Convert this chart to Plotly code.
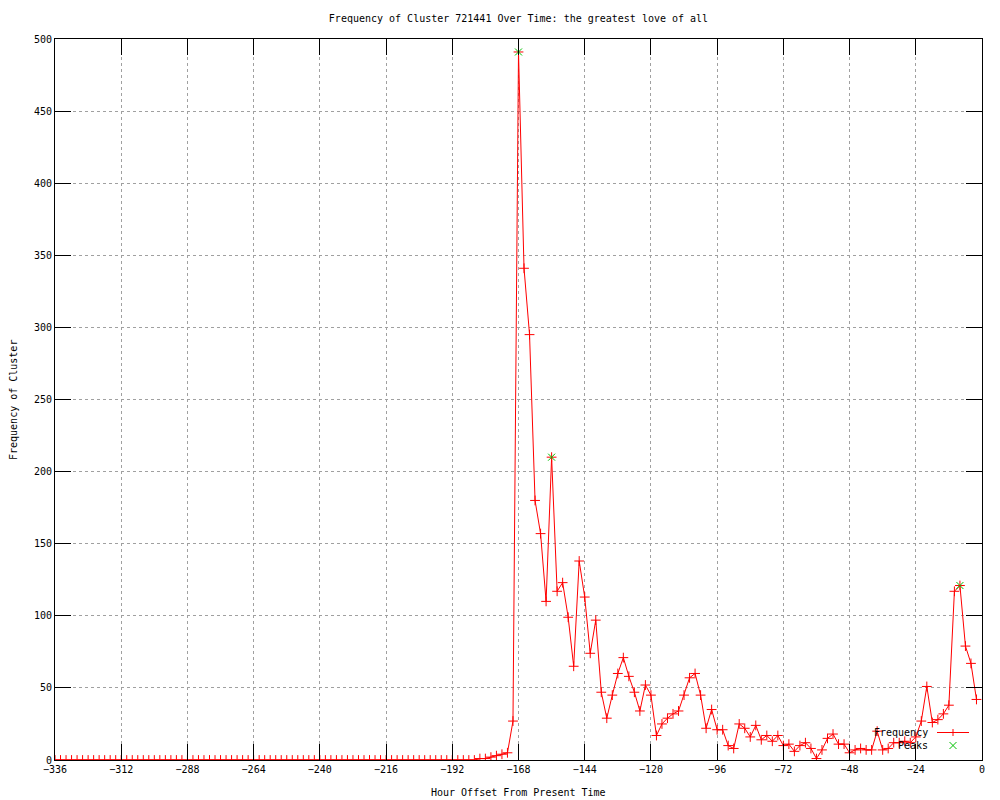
import plotly.graph_objects as go

# hour offsets, one sample every 2 hours
hours = list(range(-336, 0, 2))

# frequency per sample (zeros until the burst near -180)
zero_part = [0] * 76  # -336 .. -186
frequency = zero_part + [
    0, 1, 1, 2, 3, 4, 5, 27,            # -184 .. -170
    491, 341, 295, 180, 157, 110, 210,  # -168 .. -156
    117, 123, 99, 65, 138, 113, 74, 97, # -154 .. -140
    47, 29, 45, 60, 71, 58, 47, 34,     # -138 .. -124
    52, 45, 17, 25, 29, 32, 34, 45,     # -122 .. -108
    57, 60, 45, 22, 35, 21, 21, 10,     # -106 .. -92
    8, 25, 22, 16, 24, 14, 17, 13,      # -90 .. -76
    17, 10, 11, 6, 10, 12, 8, 1,        # -74 .. -60
    7, 15, 18, 11, 11, 5, 7, 8,         # -58 .. -44
    7, 7, 20, 7, 8, 12, 12, 13,         # -42 .. -28
    12, 16, 27, 51, 26, 28, 32, 38,     # -26 .. -12
    117, 121, 79, 67, 42,               # -10 .. -2
]

peak_hours = [-168, -156, -8]
peak_values = [491, 210, 121]

x_ticks = list(range(-336, 1, 24))
y_ticks = list(range(0, 501, 50))

FONT = "DejaVu Sans Mono"
RED = "#ff0000"
GREEN = "#00c000"

# the page body adds an 8px offset, so the figure is drawn 8px smaller
W, H = 992, 792
OFF = 8

fig = go.Figure()

fig.add_trace(
    go.Scatter(
        name="Frequency",
        x=hours,
        y=frequency,
        mode="lines+markers",
        line=dict(color=RED, width=1),
        marker=dict(symbol="cross-thin", size=7, line=dict(color=RED, width=1)),
        showlegend=False,
    )
)
fig.add_trace(
    go.Scatter(
        name="Peaks",
        x=peak_hours,
        y=peak_values,
        mode="markers",
        marker=dict(symbol="x-thin", size=7, line=dict(color=GREEN, width=1)),
        showlegend=False,
    )
)

axis_common = dict(
    showline=True,
    linecolor="black",
    linewidth=1,
    mirror="allticks",
    ticks="inside",
    ticklen=16,
    tickcolor="black",
    tickwidth=1,
    showgrid=True,
    gridcolor="#a0a0a0",
    griddash="dot",
    gridwidth=1,
    zeroline=False,
    automargin=False,
    tickfont=dict(family=FONT, size=10, color="black"),
)

fig.update_layout(
    width=W,
    height=H,
    paper_bgcolor="white",
    plot_bgcolor="white",
    margin=dict(l=47, r=18, t=31, b=40),
    font=dict(family=FONT, size=10, color="black"),
    title=dict(
        text="Frequency of Cluster 721441 Over Time: the greatest love of all",
        x=0.5,
        xref="paper",
        y=1 - 10 / H,
        yanchor="middle",
        font=dict(family=FONT, size=10, color="black"),
    ),
    xaxis=dict(range=[-336, 0], tickvals=x_ticks, **axis_common),
    yaxis=dict(range=[0, 500], tickvals=y_ticks, **axis_common),
)

# positions below are given in page pixels of the reference
pw, ph = 927.0, 721.0


def px(x):
    return (x - 55) / pw


def py(y):
    return (760 - y) / ph


# axis titles
fig.add_annotation(
    text="Hour Offset From Present Time", xref="paper", yref="paper",
    x=px(518), y=py(792), xanchor="center", yanchor="middle", showarrow=False,
    font=dict(family=FONT, size=10, color="black"),
)
fig.add_annotation(
    text="Frequency of Cluster", xref="paper", yref="paper",
    x=px(13), y=py(400), xanchor="center", yanchor="middle", showarrow=False,
    textangle=-90, font=dict(family=FONT, size=10, color="black"),
)

# gnuplot style key: text right aligned, sample on the right
for label, ypix in [("Frequency", 732.5), ("Peaks", 745.5)]:
    fig.add_annotation(
        text=label, xref="paper", yref="paper", x=px(930), y=py(ypix),
        xanchor="right", yanchor="middle", showarrow=False,
        font=dict(family=FONT, size=10, color="black"),
    )

fig.add_shape(type="line", xref="paper", yref="paper",
              x0=px(937), x1=px(969), y0=py(732.5), y1=py(732.5),
              line=dict(color=RED, width=1))
fig.add_shape(type="line", xref="paper", yref="paper",
              x0=px(953), x1=px(953), y0=py(729), y1=py(736),
              line=dict(color=RED, width=1))
fig.add_shape(type="line", xref="paper", yref="paper",
              x0=px(949.5), x1=px(956.5), y0=py(742), y1=py(749),
              line=dict(color=GREEN, width=1))
fig.add_shape(type="line", xref="paper", yref="paper",
              x0=px(949.5), x1=px(956.5), y0=py(749), y1=py(742),
              line=dict(color=GREEN, width=1))

fig.write_html("out.html")
